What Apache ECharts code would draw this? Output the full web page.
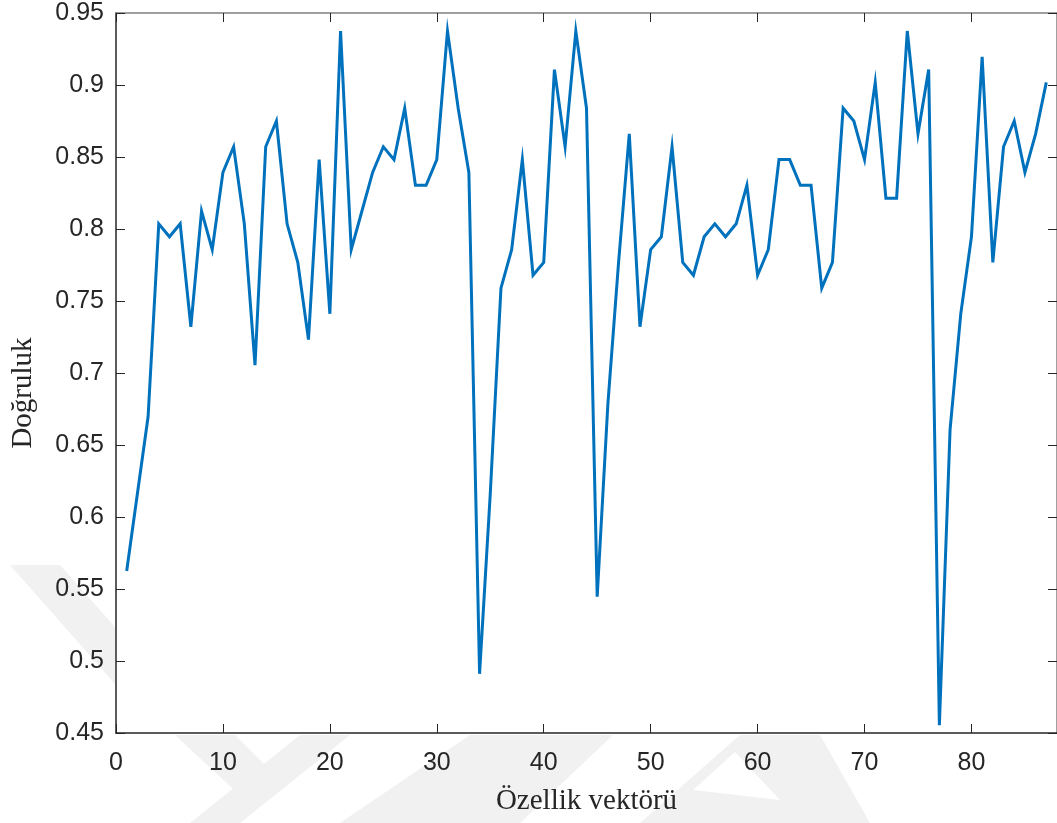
<!DOCTYPE html>
<html>
<head>
<meta charset="utf-8">
<script src="https://cdn.jsdelivr.net/npm/echarts@6/dist/echarts.min.js"></script>
<style>
  html, body { margin: 0; padding: 0; background: #ffffff; }
  #chart { width: 1057px; height: 823px; }
</style>
</head>
<body>
<div id="chart"></div>
<script>
// Feature vector index (x) and accuracy (y)
const featureIndex = [
  1, 2, 3, 4, 5, 6, 7, 8, 9, 10,
  11, 12, 13, 14, 15, 16, 17, 18, 19, 20,
  21, 22, 23, 24, 25, 26, 27, 28, 29, 30,
  31, 32, 33, 34, 35, 36, 37, 38, 39, 40,
  41, 42, 43, 44, 45, 46, 47, 48, 49, 50,
  51, 52, 53, 54, 55, 56, 57, 58, 59, 60,
  61, 62, 63, 64, 65, 66, 67, 68, 69, 70,
  71, 72, 73, 74, 75, 76, 77, 78, 79, 80,
  81, 82, 83, 84, 85, 86, 87
];
const accuracy = [
  0.5625, 0.6161, 0.6696, 0.8036, 0.7946, 0.8036, 0.7321, 0.8125, 0.7857, 0.8393,
  0.8571, 0.8036, 0.7054, 0.8571, 0.8750, 0.8036, 0.7768, 0.7232, 0.8482, 0.7411,
  0.9375, 0.7857, 0.8125, 0.8393, 0.8571, 0.8482, 0.8839, 0.8304, 0.8304, 0.8482,
  0.9375, 0.8839, 0.8393, 0.4911, 0.6161, 0.7589, 0.7857, 0.8482, 0.7679, 0.7768,
  0.9107, 0.8571, 0.9375, 0.8839, 0.5446, 0.6786, 0.7768, 0.8661, 0.7321, 0.7857,
  0.7946, 0.8571, 0.7768, 0.7679, 0.7946, 0.8036, 0.7946, 0.8036, 0.8304, 0.7679,
  0.7857, 0.8482, 0.8482, 0.8304, 0.8304, 0.7589, 0.7768, 0.8839, 0.8750, 0.8482,
  0.9018, 0.8214, 0.8214, 0.9375, 0.8661, 0.9107, 0.4554, 0.6607, 0.7411, 0.7946,
  0.9196, 0.7768, 0.8571, 0.8750, 0.8393, 0.8661, 0.9018
];
const xTicks = [0, 10, 20, 30, 40, 50, 60, 70, 80];
const yTicks = [0.45, 0.5, 0.55, 0.6, 0.65, 0.7, 0.75, 0.8, 0.85, 0.9, 0.95];
const xTitle = 'Özellik vektörü';
const yTitle = 'Doğruluk';

const seriesData = featureIndex.map((x, i) => [x, accuracy[i]]);

const chart = echarts.init(document.getElementById('chart'), null, { renderer: 'canvas' });

const tickFont = { fontFamily: 'Liberation Sans, Arial, sans-serif', fontSize: 25, color: '#262626' };
const wm = '#f1f1f1';
function poly(points, fill) {
  return { type: 'polygon', z: -10, silent: true, shape: { points: points }, style: { fill: fill } };
}

chart.setOption({
  animation: false,
  backgroundColor: '#ffffff',
  grid: { left: 116, top: 13, width: 943, height: 720, containLabel: false },
  xAxis: [
    {
      type: 'value', min: 0, max: 88, interval: 10, position: 'bottom',
      axisLine: { show: true, onZero: false, lineStyle: { color: '#262626', width: 1.5 } },
      axisTick: { show: true, inside: true, length: 9, lineStyle: { color: '#262626', width: 1 } },
      axisLabel: Object.assign({ margin: 18, showMaxLabel: false,
        formatter: v => (xTicks.indexOf(v) >= 0 ? String(v) : '') }, tickFont),
      splitLine: { show: false },
      name: xTitle, nameLocation: 'middle', nameGap: 54,
      nameTextStyle: { fontFamily: 'Liberation Serif, Times New Roman, serif', fontSize: 29, color: '#262626' }
    },
    {
      type: 'value', min: 0, max: 88, interval: 10, position: 'top',
      axisLine: { show: true, onZero: false, lineStyle: { color: '#808080', width: 1.5 } },
      axisTick: { show: true, inside: true, length: 9, lineStyle: { color: '#262626', width: 1 } },
      axisLabel: { show: false },
      splitLine: { show: false }
    }
  ],
  yAxis: [
    {
      type: 'value', min: 0.45, max: 0.95, interval: 0.05, position: 'left',
      axisLine: { show: true, onZero: false, lineStyle: { color: '#262626', width: 1.5 } },
      axisTick: { show: true, inside: true, length: 9, lineStyle: { color: '#262626', width: 1 } },
      axisLabel: Object.assign({ margin: 12,
        formatter: v => { const t = yTicks.find(y => Math.abs(y - v) < 1e-9); return t === undefined ? '' : String(t); } }, tickFont),
      splitLine: { show: false }
    },
    {
      type: 'value', min: 0.45, max: 0.95, interval: 0.05, position: 'right',
      axisLine: { show: true, onZero: false, lineStyle: { color: '#808080', width: 1.5 } },
      axisTick: { show: true, inside: true, length: 9, lineStyle: { color: '#262626', width: 1 } },
      axisLabel: { show: false },
      splitLine: { show: false }
    }
  ],
  graphic: [
    poly([[10, 565], [60, 565], [115, 627], [115, 684]], wm),
    poly([[175, 735], [235, 735], [275, 775], [245, 800]], wm),
    poly([[300, 735], [350, 735], [240, 823], [190, 823]], wm),
    poly([[470, 735], [613, 735], [520, 823], [340, 823]], wm),
    poly([[640, 823], [740, 735], [820, 735], [870, 823]], wm),
    poly([[693, 790], [735, 752], [780, 800]], '#ffffff'),
    {
      type: 'text', x: 23, y: 393, rotation: Math.PI / 2,
      style: {
        text: yTitle, fill: '#262626',
        font: '29px "Liberation Serif", "Times New Roman", serif',
        align: 'center', verticalAlign: 'middle'
      }
    }
  ],
  series: [
    {
      type: 'line', xAxisIndex: 0, yAxisIndex: 0,
      data: seriesData,
      showSymbol: false, symbol: 'none',
      lineStyle: { color: '#0072BD', width: 3, join: 'miter' },
      itemStyle: { color: '#0072BD' }
    }
  ]
});
</script>
</body>
</html>
